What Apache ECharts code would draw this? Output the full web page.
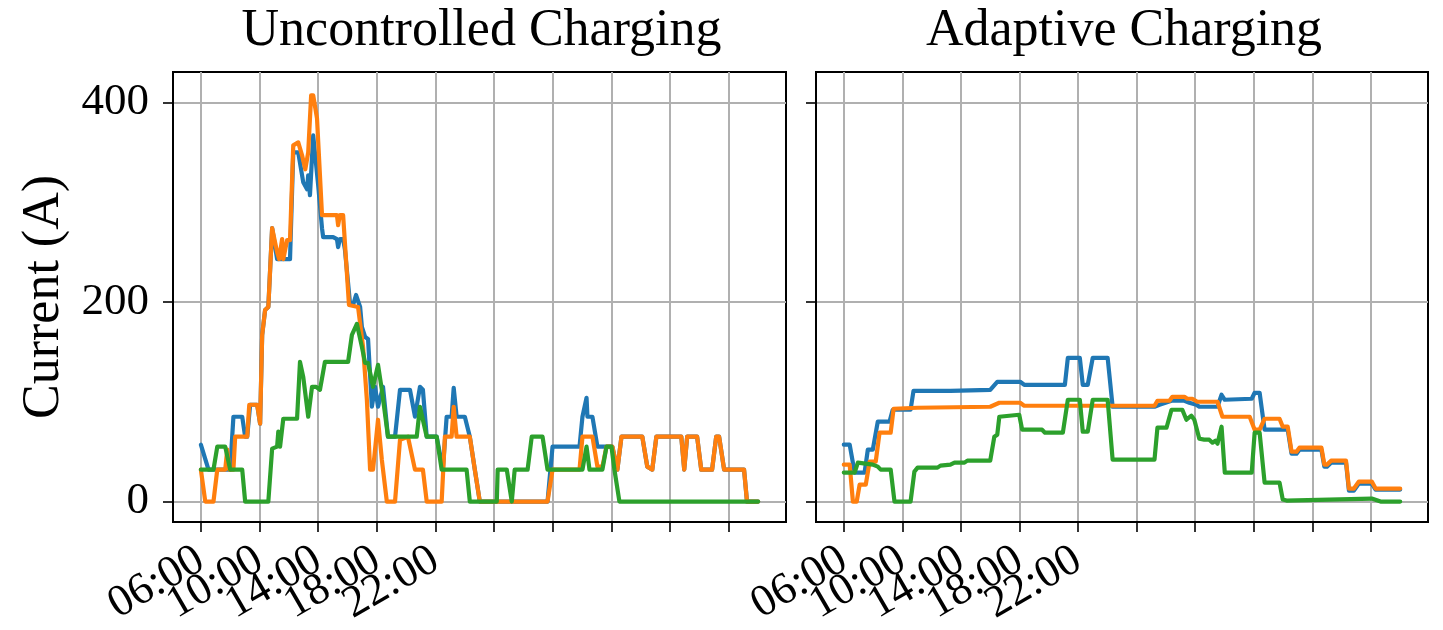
<!DOCTYPE html>
<html>
<head>
<meta charset="utf-8">
<script src="https://cdn.jsdelivr.net/npm/echarts@6/dist/echarts.min.js"></script>
<style>
  html, body { margin: 0; padding: 0; background: #ffffff; }
  #chart { width: 1443px; height: 630px; }
</style>
</head>
<body>
<div id="chart"></div>
<script>
// Panel titles and axis text
const PANEL_TITLES = ['Uncontrolled Charging', 'Adaptive Charging'];
const Y_LABEL = 'Current (A)';

// Time axis (hours of day, 06:00 -> 01:00 next day); grid every 2 h
const X_TICKS = [6, 8, 10, 12, 14, 16, 18, 20, 22, 24];
const X_TICK_LABELS = ['06:00', '10:00', '14:00', '18:00', '22:00'];
const Y_TICKS = [0, 200, 400];

// Phase currents, [hour, amps]
const UNCONTROLLED_A = [
  [6.00,57],[6.26,32],[7.00,32],[7.11,85],[7.41,85],[7.51,65],[7.58,65],[7.68,97],[7.92,97],[8.02,78],
  [8.09,167],[8.19,192],[8.30,195],[8.43,274],[8.60,243],[9.04,243],[9.15,350],[9.32,350],[9.49,320],
  [9.62,313],[9.66,327],[9.72,307],[9.83,367],[10.00,317],[10.13,274],[10.17,265],[10.51,265],[10.64,263],
  [10.68,255],[10.74,263],[10.85,263],[10.91,253],[11.09,197],[11.19,197],[11.29,207],[11.43,195],
  [11.49,175],[11.60,165],[11.70,163],[11.83,95],[11.94,115],[12.04,95],[12.21,115],[12.38,65],[12.62,65],
  [12.79,112],[13.13,112],[13.30,85],[13.47,115],[13.57,112],[13.70,65],[14.04,65],[14.25,32],[14.38,85],
  [14.55,85],[14.62,114],[14.72,85],[15.00,85],[15.17,65],[15.34,32],[15.51,0],[17.82,0],[17.99,55],
  [18.91,55],[19.01,85],[19.15,104],[19.18,85],[19.35,85],[19.52,55],[19.76,55],[20.03,55],[20.20,32],
  [20.34,65],[21.05,65],[21.22,35],[21.39,32],[21.53,65],[22.38,65],[22.48,32],[22.58,65],[22.92,65],
  [23.06,32],[23.43,32],[23.57,65],[23.67,65],[23.84,32],[24.52,32],[24.62,0],[25.00,0]
];
const UNCONTROLLED_B = [
  [6.00,32],[6.15,0],[6.43,0],[6.56,32],[6.83,32],[6.90,52],[6.97,32],[7.11,32],[7.17,65],[7.58,65],
  [7.65,97],[7.92,97],[8.02,78],[8.09,167],[8.19,192],[8.30,195],[8.43,274],[8.60,250],[8.67,243],
  [8.77,263],[8.81,243],[8.94,262],[9.04,262],[9.15,357],[9.32,360],[9.45,347],[9.56,333],[9.66,350],
  [9.76,407],[9.83,407],[9.96,384],[10.13,287],[10.64,287],[10.68,277],[10.74,287],[10.85,287],[11.05,197],
  [11.36,195],[11.53,155],[11.66,102],[11.77,32],[11.87,32],[12.04,82],[12.17,42],[12.34,0],[12.62,0],
  [12.79,62],[13.06,65],[13.30,32],[13.57,32],[13.70,0],[14.21,0],[14.32,65],[14.55,65],[14.62,95],
  [14.72,65],[15.17,65],[15.34,32],[15.51,0],[17.82,0],[17.99,32],[18.91,32],[19.01,65],[19.35,65],
  [19.52,35],[19.69,35],[19.83,55],[20.03,55],[20.20,32],[20.34,65],[21.05,65],[21.22,35],[21.39,32],
  [21.53,65],[22.38,65],[22.48,32],[22.58,65],[22.92,65],[23.06,32],[23.43,32],[23.57,65],[23.67,65],
  [23.84,32],[24.52,32],[24.62,0],[25.00,0]
];
const UNCONTROLLED_C = [
  [6.00,32],[6.43,32],[6.56,55],[6.83,55],[7.00,32],[7.41,32],[7.51,0],[8.30,0],[8.43,53],[8.60,55],
  [8.64,70],[8.70,55],[8.81,83],[9.28,83],[9.38,140],[9.49,125],[9.66,85],[9.79,115],[9.93,115],[10.06,112],
  [10.23,140],[11.02,140],[11.15,167],[11.32,178],[11.49,155],[11.60,139],[11.70,139],[11.87,115],
  [12.04,137],[12.17,112],[12.38,65],[13.36,65],[13.47,95],[13.53,95],[13.70,65],[14.04,65],[14.21,32],
  [15.06,32],[15.17,0],[16.09,0],[16.12,32],[16.43,32],[16.60,0],[16.70,32],[17.14,32],[17.28,65],
  [17.65,65],[17.82,32],[19.01,32],[19.15,55],[19.25,32],[19.69,32],[19.83,55],[20.00,55],[20.10,32],
  [20.27,0],[25.00,0]
];
const ADAPTIVE_A = [
  [6.00,57],[6.20,57],[6.37,29],[6.71,29],[6.82,52],[6.99,52],[7.16,80],[7.56,80],[7.67,92],[8.28,92],
  [8.38,111],[9.64,111],[11.00,112],[11.24,120],[12.02,120],[12.16,117],[13.55,117],[13.65,144],[14.06,144],
  [14.16,117],[14.33,117],[14.50,144],[15.01,144],[15.18,95],[16.61,95],[16.78,97],[17.19,101],[17.63,101],
  [17.80,99],[18.04,97],[18.14,95],[18.76,95],[18.90,107],[19.01,102],[19.93,103],[20.03,109],[20.20,109],
  [20.37,72],[21.16,72],[21.29,48],[21.46,48],[21.56,52],[22.31,52],[22.41,35],[22.50,35],[22.64,39],
  [23.15,39],[23.25,11],[23.42,11],[23.59,18],[24.03,18],[24.16,12],[25.00,12]
];
const ADAPTIVE_B = [
  [6.00,37],[6.20,37],[6.31,0],[6.44,0],[6.54,17],[6.75,17],[6.88,40],[7.09,40],[7.22,69],[7.60,69],
  [7.70,93],[8.52,94],[11.00,95],[11.31,99],[12.02,99],[12.16,96],[16.61,96],[16.71,101],[17.12,101],
  [17.22,105],[17.63,105],[17.73,103],[17.90,103],[18.07,100],[18.76,100],[18.93,85],[19.86,85],[20.03,72],
  [20.20,72],[20.37,83],[20.88,83],[20.99,75],[21.16,75],[21.29,50],[21.46,50],[21.56,54],[22.31,54],
  [22.41,37],[22.50,37],[22.64,41],[23.15,41],[23.25,13],[23.42,13],[23.59,20],[24.03,20],[24.16,13],
  [25.00,13]
];
const ADAPTIVE_C = [
  [6.00,29],[6.37,29],[6.48,39],[6.99,37],[7.16,35],[7.26,32],[7.60,32],[7.73,0],[8.28,0],[8.41,30],
  [8.52,34],[9.20,34],[9.30,36],[9.64,37],[9.78,39],[10.12,39],[10.22,41],[11.00,41],[11.14,65],[11.24,67],
  [11.31,85],[11.99,87],[12.09,72],[12.77,72],[12.87,69],[13.48,69],[13.65,102],[14.06,102],[14.16,70],
  [14.33,70],[14.50,102],[15.01,102],[15.18,42],[16.61,42],[16.71,74],[17.02,74],[17.19,92],[17.56,92],
  [17.70,82],[17.87,86],[17.97,82],[18.14,63],[18.31,62],[18.48,62],[18.59,59],[18.69,61],[18.76,58],
  [18.90,75],[19.01,29],[19.93,29],[20.03,69],[20.20,69],[20.37,19],[20.88,19],[20.99,2],[21.12,1],
  [24.03,3],[24.33,0],[25.00,0]
];

const PHASE_NAMES = ['Phase A', 'Phase B', 'Phase C'];
const PHASE_COLORS = ['#1f77b4', '#ff7f0e', '#2ca02c'];
const PANELS = [
  [UNCONTROLLED_A, UNCONTROLLED_B, UNCONTROLLED_C],
  [ADAPTIVE_A, ADAPTIVE_B, ADAPTIVE_C]
];

const FONT = '"Liberation Serif", "DejaVu Serif", serif';
const GRID_LEFT = [173, 816];
const GRID_WIDTH = [613, 612];
const X_MIN = 5.05;
const X_MAX = 25.95;

const chart = echarts.init(document.getElementById('chart'), null, { renderer: 'canvas' });

// Labelled tick positions, split into two alternating sets so that the
// slanted labels are laid out on two stacked axes without being culled.
const LABELLED = X_TICKS.slice(0, X_TICK_LABELS.length);
const LABEL_SETS = [
  LABELLED.filter((_, k) => k % 2 === 0),
  LABELLED.filter((_, k) => k % 2 === 1)
];

const xLabelStyle = {
  show: true,
  interval: 0,
  formatter: v => X_TICK_LABELS[X_TICKS.indexOf(v)] || '',
  rotate: 30,
  margin: 35,
  showMinLabel: true,
  showMaxLabel: true,
  color: '#000',
  fontFamily: FONT,
  fontSize: 45
};

const xAxes = [];
// main axes: line, ticks, grid lines, first label set
[0, 1].forEach(i => {
  xAxes.push({
    type: 'value',
    gridIndex: i,
    position: 'bottom',
    min: X_MIN,
    max: X_MAX,
    axisLine: { show: true, onZero: false, lineStyle: { color: '#000', width: 2 } },
    axisTick: { show: true, length: 10, customValues: X_TICKS, lineStyle: { color: '#000', width: 1.6 } },
    axisLabel: Object.assign({}, xLabelStyle, { customValues: LABEL_SETS[0] }),
    splitLine: { show: true, lineStyle: { color: '#b0b0b0', width: 2 } }
  });
});
// companion axes carrying the second label set
[0, 1].forEach(i => {
  xAxes.push({
    type: 'value',
    gridIndex: i,
    position: 'bottom',
    offset: 0,
    min: X_MIN,
    max: X_MAX,
    axisLine: { show: false },
    axisTick: { show: false },
    axisLabel: Object.assign({}, xLabelStyle, { customValues: LABEL_SETS[1] }),
    splitLine: { show: false }
  });
});

const yAxes = [0, 1].map(i => ({
  type: 'value',
  gridIndex: i,
  min: -20.5,
  max: 430.5,
  name: i === 0 ? Y_LABEL : '',
  nameLocation: 'middle',
  nameGap: 103,
  nameRotate: 90,
  nameTextStyle: { fontFamily: FONT, fontSize: 52, color: '#000' },
  axisLine: { show: true, onZero: false, lineStyle: { color: '#000', width: 2 } },
  axisTick: { show: true, length: 10, customValues: Y_TICKS, lineStyle: { color: '#000', width: 1.6 } },
  axisLabel: {
    show: i === 0,
    customValues: Y_TICKS,
    margin: 24,
    color: '#000',
    fontFamily: FONT,
    fontSize: 45
  },
  splitLine: { show: true, lineStyle: { color: '#b0b0b0', width: 2 } }
}));

const series = [];
PANELS.forEach((phases, p) => {
  phases.forEach((data, k) => {
    series.push({
      name: PHASE_NAMES[k],
      type: 'line',
      xAxisIndex: p,
      yAxisIndex: p,
      data: data,
      showSymbol: false,
      symbol: 'none',
      lineStyle: { color: PHASE_COLORS[k], width: 4.2, join: 'round', cap: 'round' },
      itemStyle: { color: PHASE_COLORS[k] },
      emphasis: { disabled: true },
      clip: true
    });
  });
});

chart.setOption({
  backgroundColor: '#ffffff',
  animation: false,
  title: PANEL_TITLES.map((t, i) => ({
    text: t,
    left: GRID_LEFT[i] + GRID_WIDTH[i] / 2 - 3,
    top: 0,
    textAlign: 'center',
    textStyle: { fontFamily: FONT, fontWeight: 'normal', fontSize: 52, color: '#000' }
  })),
  grid: [0, 1].map(i => ({
    left: GRID_LEFT[i],
    top: 72,
    width: GRID_WIDTH[i],
    height: 450,
    show: true,
    borderColor: '#000',
    borderWidth: 2,
    backgroundColor: 'transparent',
    containLabel: false
  })),
  xAxis: xAxes,
  yAxis: yAxes,
  series: series
});
</script>
</body>
</html>
